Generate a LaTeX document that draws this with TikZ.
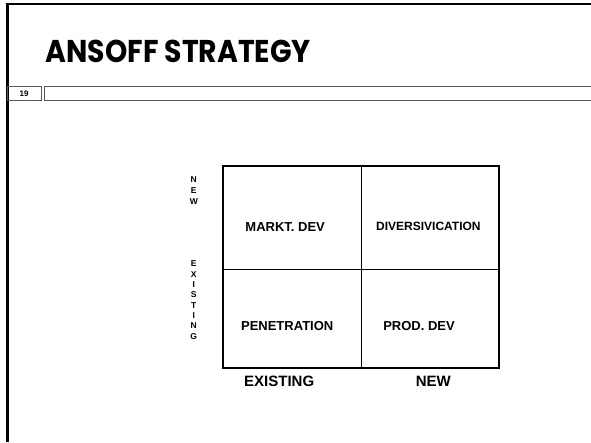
\documentclass[tikz,border=0pt]{standalone}
\usepackage{fontspec}
\setmainfont{Liberation Sans}
\newfontfamily\titlefont[FakeStretch=0.9]{Poppins}
\begin{document}
\begin{tikzpicture}[x=1pt,y=-1pt,
  cell/.style={font=\fontsize{13}{15}\selectfont\bfseries, inner sep=0pt},
  axis/.style={font=\fontsize{15}{17}\selectfont\bfseries, inner sep=0pt},
  vlet/.style={font=\fontsize{8.5}{10}\selectfont\bfseries, inner sep=0pt},
  framebar/.style={draw=gray!70!black, line width=1pt}]
\useasboundingbox (0,0) rectangle (591,442);
% frame
\draw[line width=2.4pt] (7.3,442) -- (7.3,4.2) -- (591,4.2);
% title
\node[anchor=base west, inner sep=0pt, font=\titlefont\fontsize{31.5}{34}\selectfont\bfseries] (title) at (45.5,62) {ANSOFF STRATEGY};
% number row
\draw[framebar] (7.3,86.5) rectangle (41,100) node[midway, font=\fontsize{8}{9}\selectfont\bfseries, inner sep=0pt] (num) {19};
\draw[framebar] (44,86.5) rectangle (592,100);
% grid
\coordinate (tl) at (223.3,166);
\coordinate (br) at (499.3,368.3);
\draw[line width=0.9pt] (361.7,166) -- (361.7,368.3);
\draw[line width=0.9pt] (223.3,269) -- (499.3,269);
\draw[line width=2pt] (tl) rectangle (br);
% cells
\node[cell] (md) at (285.2,226.7) {MARKT. DEV};
\node[cell, font=\fontsize{12}{14}\selectfont\bfseries] (dv) at (428.4,226.7) {DIVERSIVICATION};
\node[cell] (pe) at (287.2,325.7) {PENETRATION};
\node[cell] (pd) at (419,325.7) {PROD. DEV};
% axes
\node[axis] (ex) at (279.2,381) {EXISTING};
\node[axis] (nw) at (433.4,381) {NEW};
% vertical labels
\foreach \c [count=\i from 0] in {N,E,W}
  \node[vlet] (v\i) at (193.8,179.7+10.75*\i) {\c};
\foreach \c [count=\i from 0] in {E,X,I,S,T,I,N,G}
  \node[vlet] (w\i) at (193.8,263.8+10.35*\i) {\c};
\end{tikzpicture}
\end{document}
